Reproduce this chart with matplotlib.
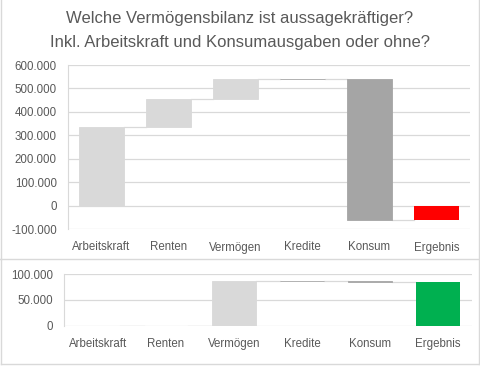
import matplotlib

matplotlib.use("Agg")
import matplotlib.pyplot as plt
from matplotlib.lines import Line2D
from matplotlib.ticker import FuncFormatter

categories = ["Arbeitskraft", "Renten", "Vermögen", "Kredite", "Konsum", "Ergebnis"]
# changes per step; the last entry is the total
top_changes = [337000, 118000, 87000, -2000, -602500]
bottom_changes = [0, 0, 87000, -1000, -1000]
top_total_color = "#ff0000"
bottom_total_color = "#00b050"

UP = "#d9d9d9"
DOWN = "#a5a5a5"
GRID = "#d9d9d9"
TXT = "#595959"

plt.rcParams["font.family"] = ["Liberation Sans", "DejaVu Sans"]


def thousands(v, _pos):
    return f"{int(round(v)):,}".replace(",", ".")


def waterfall(ax, changes, total_color):
    x = range(len(categories))
    level = 0
    ends = []
    for i, d in enumerate(changes):
        start, end = level, level + d
        color = UP if d >= 0 else DOWN
        if d != 0:
            ax.bar(i, end - start, bottom=start, width=0.66, color=color,
                   edgecolor=color, linewidth=0.6, zorder=3)
        ends.append(end)
        level = end
    total = level
    ax.bar(len(changes), total, width=0.66, color=total_color, zorder=3)
    # connectors
    for i, e in enumerate(ends):
        ax.plot([i + 0.33, i + 0.67], [e, e], color=GRID, lw=0.9, zorder=2)
    ax.set_xticks(list(x))
    ax.set_xticklabels(categories)
    ax.set_xlim(-0.5, len(categories) - 0.5)
    ax.yaxis.set_major_formatter(FuncFormatter(thousands))
    ax.grid(axis="y", color=GRID, lw=0.9, zorder=0)
    for s in ["top", "right", "bottom"]:
        ax.spines[s].set_visible(False)
    ax.spines["left"].set_color(GRID)
    ax.tick_params(length=0, colors=TXT, labelsize=8.3)
    ax.tick_params(axis="x", pad=9)
    ax.tick_params(axis="y", pad=8)


fig = plt.figure(figsize=(4.8, 3.66), dpi=100)

ax1 = fig.add_axes([68 / 480, 1 - 229 / 366, 402 / 480, 164 / 366])
waterfall(ax1, top_changes, top_total_color)
ax1.set_ylim(-100000, 600000)
ax1.set_yticks(range(-100000, 600001, 100000))

ax2 = fig.add_axes([64 / 480, 1 - 325.7 / 366, 408 / 480, 51.4 / 366])
waterfall(ax2, bottom_changes, bottom_total_color)
ax2.set_ylim(0, 100000)
ax2.set_yticks([0, 50000, 100000])

fig.text(0.5, 1 - 19 / 366, "Welche Vermögensbilanz ist aussagekräftiger?",
         ha="center", va="center", fontsize=12, color=TXT)
fig.text(0.5, 1 - 43 / 366, "Inkl. Arbeitskraft und Konsumausgaben oder ohne?",
         ha="center", va="center", fontsize=12, color=TXT)

# chart borders
for xs, ys in [([1 / 480, 1 / 480], [1 - 259 / 366, 1]),
               ([0, 1], [1 - 259 / 366, 1 - 259 / 366]),
               ([1 / 480, 1 / 480], [1 - 364 / 366, 1 - 259 / 366]),
               ([1 / 480, 479 / 480], [1 - 364 / 366, 1 - 364 / 366]),
               ([479 / 480, 479 / 480], [1 - 364 / 366, 1])]:
    fig.add_artist(Line2D(xs, ys, color=GRID, lw=1))

fig.savefig("out.png", dpi=100)
